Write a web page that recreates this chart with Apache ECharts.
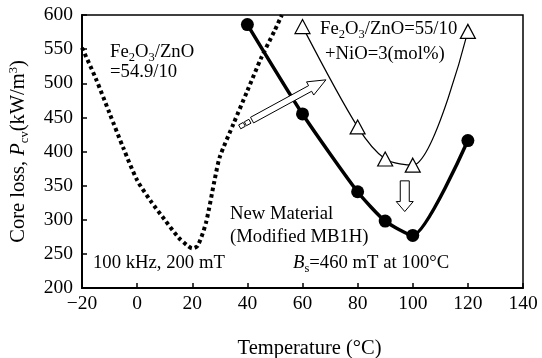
<!DOCTYPE html>
<html><head><meta charset="utf-8">
<script src="https://cdn.jsdelivr.net/npm/echarts@6/dist/echarts.min.js"></script>
<style>html,body{margin:0;padding:0;background:#fff}#c{width:542px;height:358px}</style>
</head><body><div id="c"></div>
<script>
// New Material (Modified MB1H)
const newTemps = [40, 60, 80, 90, 100, 120];
const newLoss = [586, 455, 341, 298, 277, 416];
// Fe2O3/ZnO=55/10 + NiO=3(mol%)
const niTemps = [60, 80, 90, 100, 120];
const niLoss = [583, 436, 389, 380, 576];
// Fe2O3/ZnO=54.9/10 (dotted)
const oldTemps = [-20, -15, -10, -5, 0, 5, 10, 15, 18, 20, 22, 25, 28, 30, 35, 40, 45, 50, 52.5];
const oldLoss = [552, 507, 456, 405, 358, 327, 300, 274, 263, 258, 262, 296, 356, 392, 441, 489, 537, 578, 600];
const xAxisTicks = [-20, 0, 20, 40, 60, 80, 100, 120, 140];
const yAxisTicks = [200, 250, 300, 350, 400, 450, 500, 550, 600];

const FONT = '"Liberation Serif", "Times New Roman", serif';
const zip = (xs, ys) => xs.map((x, i) => [x, ys[i]]);

const chart = echarts.init(document.getElementById('c'), null, {renderer: 'canvas'});

const mainRich = (size) => ({
  n: {fontSize: size, fontFamily: FONT, color: '#000', lineHeight: 24},
  i: {fontSize: size, fontFamily: FONT, color: '#000', lineHeight: 24, fontStyle: 'italic'},
  sub: {fontSize: 12.5, fontFamily: FONT, color: '#000', lineHeight: 10, verticalAlign: 'bottom'},
  sup: {fontSize: 12.5, fontFamily: FONT, color: '#000', lineHeight: 14, verticalAlign: 'top'}
});

chart.setOption({
  animation: false,
  backgroundColor: '#fff',
  grid: {left: 82, right: 19, top: 15, bottom: 70, outerBoundsMode: 'none', containLabel: false,
    show: true, borderColor: '#000', borderWidth: 1.5, backgroundColor: 'transparent'},
  xAxis: {
    type: 'value',
    min: xAxisTicks[0], max: xAxisTicks[xAxisTicks.length - 1], interval: 20,
    axisLine: {show: true, onZero: false, lineStyle: {color: '#000', width: 2}},
    axisTick: {show: true, inside: true, length: 5, lineStyle: {color: '#000', width: 1.5}},
    splitLine: {show: false},
    axisLabel: {color: '#000', fontFamily: FONT, fontSize: 19.5, margin: 6,
      formatter: v => v < 0 ? '\u2212' + Math.abs(v) : String(v)},
    name: 'Temperature (°C)',
    nameLocation: 'middle',
    nameGap: 50,
    nameTextStyle: {color: '#000', fontFamily: FONT, fontSize: 20.5, padding: [0, 0, 0, 14]}
  },
  yAxis: {
    type: 'value',
    min: yAxisTicks[0], max: yAxisTicks[yAxisTicks.length - 1], interval: 50,
    axisLine: {show: true, onZero: false, lineStyle: {color: '#000', width: 2}},
    axisTick: {show: true, inside: true, length: 5, lineStyle: {color: '#000', width: 1.5}},
    splitLine: {show: false},
    axisLabel: {color: '#000', fontFamily: FONT, fontSize: 19.5, margin: 9},
    name: '{n|Core loss, }{i|P}{sub|cv}{n|(kW/m}{sup|3}{n|)}',
    nameLocation: 'middle',
    nameRotate: 90,
    nameGap: 43,
    nameTextStyle: {color: '#000', fontFamily: FONT, fontSize: 20.5, rich: mainRich(20.5), padding: [0, 0, 8, 0]}
  },
  series: [
    {
      type: 'line', name: 'Fe2O3/ZnO=54.9/10',
      data: zip(oldTemps, oldLoss),
      showSymbol: false, symbol: 'none', smooth: 0.25,
      lineStyle: {color: '#000', width: 4, type: [3.5, 3.2], cap: 'butt'},
      z: 2
    },
    {
      type: 'line', name: 'Fe2O3/ZnO=55/10+NiO=3(mol%)',
      data: zip(niTemps, niLoss),
      symbol: 'triangle', symbolSize: [15, 14], smooth: 0.3,
      lineStyle: {color: '#000', width: 1.2},
      itemStyle: {color: '#fff', borderColor: '#000', borderWidth: 1.2},
      z: 3
    },
    {
      type: 'line', name: 'New Material',
      data: zip(newTemps, newLoss),
      symbol: 'circle', symbolSize: 13, smooth: 0.2,
      lineStyle: {color: '#000', width: 3.5},
      itemStyle: {color: '#000', borderColor: '#000', borderWidth: 0},
      z: 4
    }
  ]
});

// ---- annotations ----
function arrowPoly(T, P, a, b, h) {
  const dx = P[0] - T[0], dy = P[1] - T[1];
  const L = Math.hypot(dx, dy);
  const u = [dx / L, dy / L], n = [-u[1], u[0]];
  const B = [P[0] - u[0] * h, P[1] - u[1] * h];
  const f = (p, k, v) => [p[0] + v[0] * k, p[1] + v[1] * k];
  return [f(T, a, n), f(B, a, n), f(B, b, n), P, f(B, -b, n), f(B, -a, n), f(T, -a, n)];
}
function boxPoly(C, u, n, hl, hw) {
  return [
    [C[0] + u[0] * hl + n[0] * hw, C[1] + u[1] * hl + n[1] * hw],
    [C[0] + u[0] * hl - n[0] * hw, C[1] + u[1] * hl - n[1] * hw],
    [C[0] - u[0] * hl - n[0] * hw, C[1] - u[1] * hl - n[1] * hw],
    [C[0] - u[0] * hl + n[0] * hw, C[1] - u[1] * hl + n[1] * hw]
  ];
}
const px = (p) => chart.convertToPixel({gridIndex: 0}, p);

const diagTail = px([41.7, 446]);
const diagTip = px([68.5, 505]);
const downTail = px([97.1, 357]);
const downTip = px([97.1, 312]);
const du = (() => { const dx = diagTip[0] - diagTail[0], dy = diagTip[1] - diagTail[1], L = Math.hypot(dx, dy); return [dx / L, dy / L]; })();
const dn = [-du[1], du[0]];
const sq1 = [diagTail[0] - du[0] * 5, diagTail[1] - du[1] * 5];
const sq2 = [diagTail[0] - du[0] * 11.5, diagTail[1] - du[1] * 11.5];

const txt = (x, y, text, size) => ({
  type: 'text', x: x, y: y, z: 10,
  style: {text: text, rich: mainRich(size || 18.7), fill: '#000', font: (size || 18.7) + 'px ' + FONT, verticalAlign: 'middle', align: 'left'}
});

chart.setOption({
  graphic: [
    {type: 'polygon', z: 20, shape: {points: arrowPoly(diagTail, diagTip, 3.2, 7.5, 18)}, style: {fill: '#fff', stroke: '#000', lineWidth: 1}},
    {type: 'polygon', z: 20, shape: {points: boxPoly(sq1, du, dn, 2.6, 2.2)}, style: {fill: '#fff', stroke: '#000', lineWidth: 1}},
    {type: 'polygon', z: 20, shape: {points: boxPoly(sq2, du, dn, 2.6, 2.2)}, style: {fill: '#fff', stroke: '#000', lineWidth: 1}},
    {type: 'polygon', z: 20, shape: {points: arrowPoly(downTail, downTip, 4.5, 8.5, 10)}, style: {fill: '#fff', stroke: '#000', lineWidth: 1}},
    txt(110, 52, '{n|Fe}{sub|2}{n|O}{sub|3}{n|/ZnO}'),
    txt(110, 72, '{n|=54.9/10}'),
    txt(320, 29, '{n|Fe}{sub|2}{n|O}{sub|3}{n|/ZnO=55/10}'),
    txt(325, 54, '{n|+NiO=3(mol%)}'),
    txt(230, 214, '{n|New Material}'),
    txt(230, 237, '{n|(Modified MB1H)}'),
    txt(93, 263, '{n|100 kHz, 200 mT}'),
    txt(293, 263, '{i|B}{sub|s}{n|=460 mT at 100°C}')
  ]
});
</script>
</body></html>
